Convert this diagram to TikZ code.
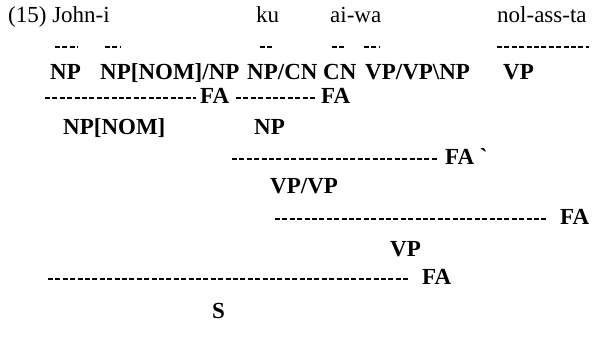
\documentclass[tikz,border=0pt]{standalone}
\usepackage{fontspec}
\setmainfont{Liberation Serif}
\begin{document}
\begin{tikzpicture}[x=1pt,y=-1pt,
  word/.style={anchor=base west,inner sep=0pt,font=\fontsize{23}{27}\selectfont},
  cat/.style={anchor=base west,inner sep=0pt,font=\fontsize{23}{27}\selectfont\bfseries},
  rule/.style={line width=1.3pt,dash pattern=on 5pt off 2.4pt}]
\useasboundingbox[fill=white] (0,0) rectangle (593,348);

% words
\node[word] (w0) at (8,22) {(15) John-i};
\node[word] (w1) at (256,22) {ku};
\node[word] (w2) at (330,22) {ai-wa};
\node[word] (w3) at (497,22) {nol-ass-ta};

% lexical rules
\coordinate (l1a) at (55,47);  \coordinate (l1b) at (78,47);
\coordinate (l2a) at (105,47); \coordinate (l2b) at (120,47);
\coordinate (l3a) at (260,47); \coordinate (l3b) at (274,47);
\coordinate (l4a) at (332,47); \coordinate (l4b) at (346,47);
\coordinate (l5a) at (364,47); \coordinate (l5b) at (379,47);
\coordinate (l6a) at (497,47); \coordinate (l6b) at (589,47);
\foreach \i in {1,...,6} \draw[rule] (l\i a) -- (l\i b);

% categories
\node[cat] (c1) at (50,79)  {NP};
\node[cat] (c2) at (100,79) {NP[NOM]/NP};
\node[cat] (c3) at (247,79) {NP/CN};
\node[cat] (c4) at (323,79) {CN};
\node[cat] (c5) at (365,79) {VP/VP\textbackslash NP};
\node[cat] (c6) at (503,79) {VP};

% first combinations
\node[cat] (fa1) at (200,103) {FA};
\node[cat] (fa2) at (321,103) {FA};
\coordinate (r1) at (45,98);
\coordinate (r2) at (236,98);
\draw[rule] (r1) -- ([xshift=-4pt]fa1.west |- r1);
\draw[rule] (r2) -- ([xshift=-4pt]fa2.west |- r2);
\node[cat] (n1) at (63,134)  {NP[NOM]};
\node[cat] (n2) at (254,134) {NP};

% second combination
\node[cat] (fa3) at (445,164) {FA \textasciigrave};
\coordinate (r3) at (232,159);
\draw[rule] (r3) -- ([xshift=-6pt]fa3.west |- r3);
\node[cat] (n3) at (270,193) {VP/VP};

% third combination
\node[cat] (fa4) at (560,224) {FA};
\coordinate (r4) at (275,219);
\draw[rule] (r4) -- ([xshift=-14pt]fa4.west |- r4);
\node[cat] (n4) at (390,256) {VP};

% final combination
\node[cat] (fa5) at (422,284) {FA};
\coordinate (r5) at (48,279);
\draw[rule] (r5) -- ([xshift=-14pt]fa5.west |- r5);
\node[cat] (n5) at (212,318) {S};
\end{tikzpicture}
\end{document}
